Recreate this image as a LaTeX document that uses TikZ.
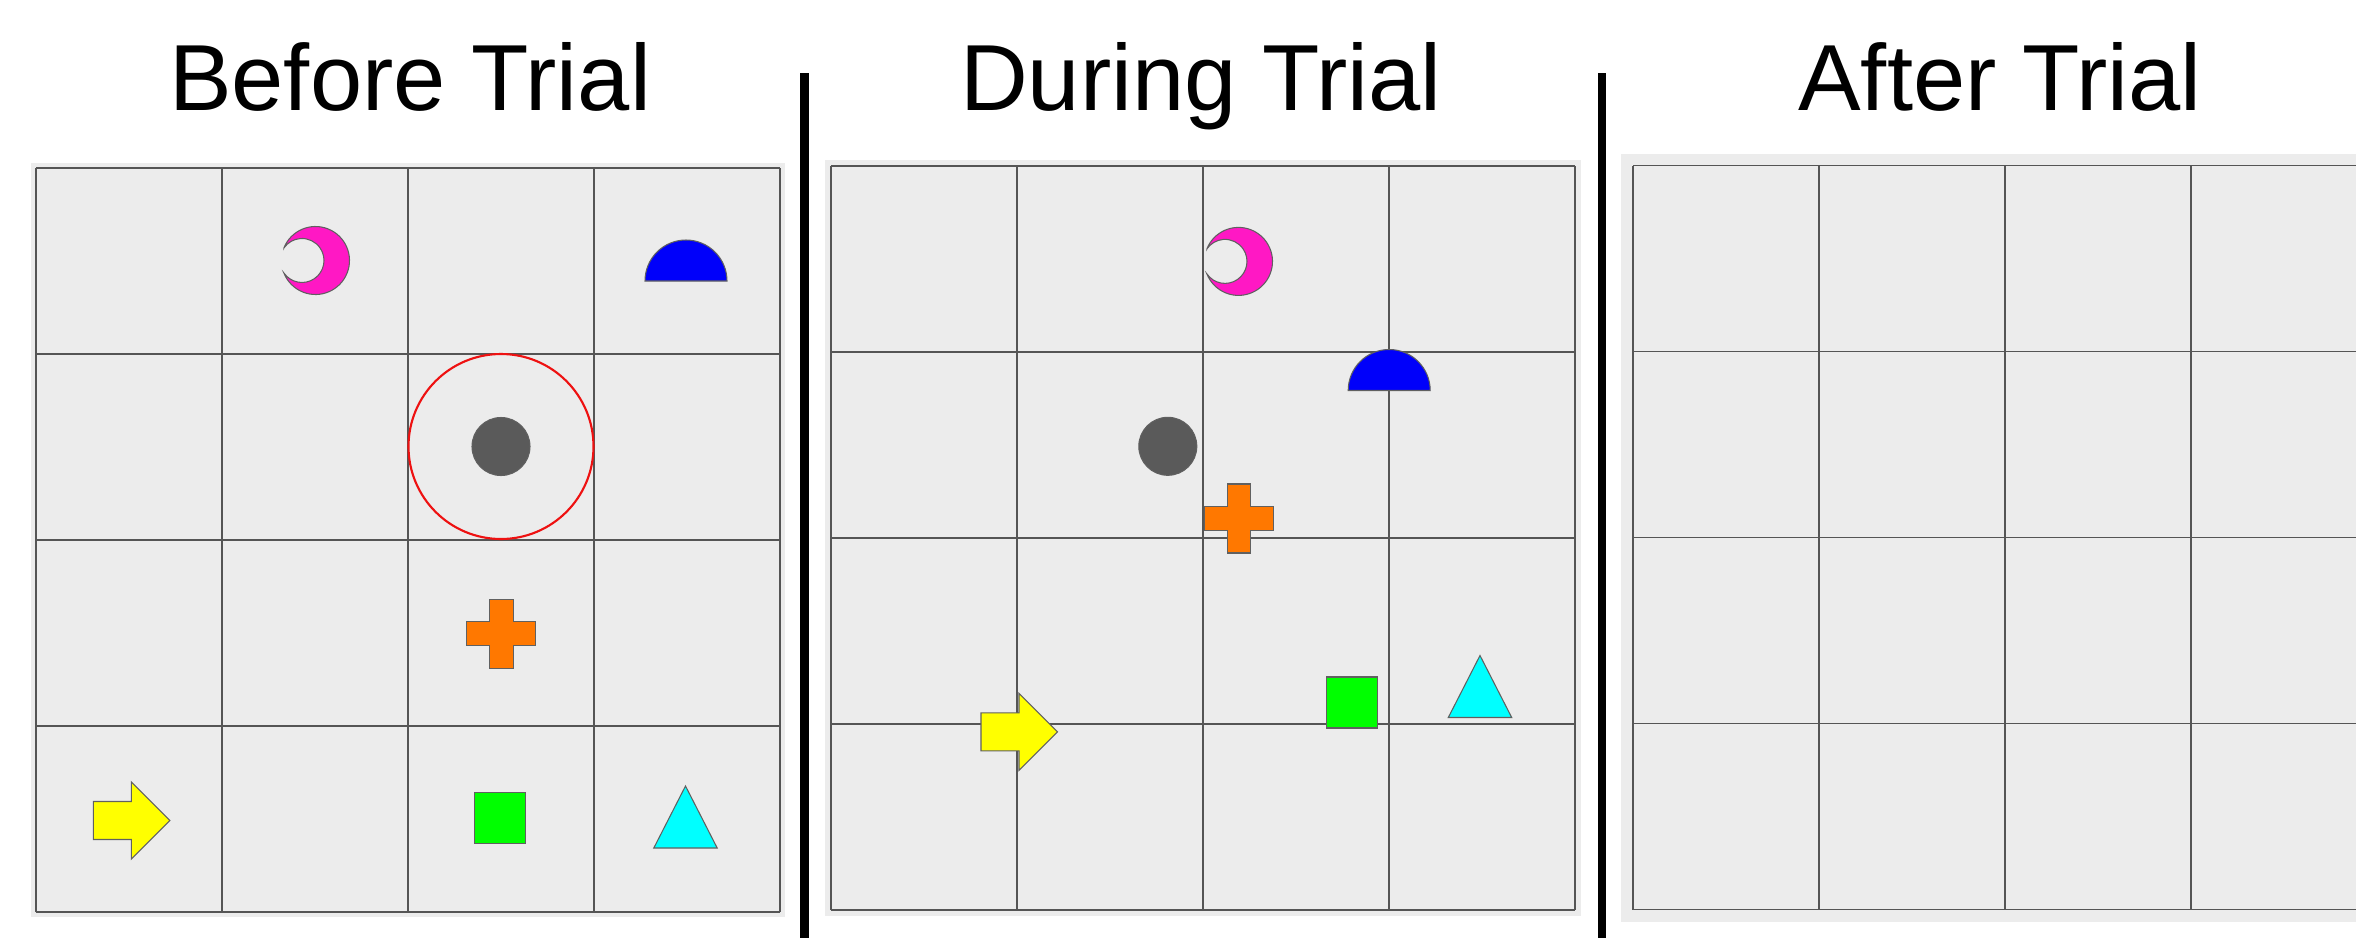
\documentclass[tikz,border=0pt]{standalone}
\usepackage{fontspec}
\setmainfont{Liberation Sans}
\usepackage{xcolor}

\definecolor{boardgray}{HTML}{ECECEC}
\definecolor{linegray}{HTML}{555555}
\definecolor{edgegray}{HTML}{606060}
\definecolor{ringred}{HTML}{EE1111}
\definecolor{moonpink}{HTML}{FF18C4}
\definecolor{domeblue}{HTML}{0000FA}
\definecolor{dotgray}{HTML}{5A5A5A}
\definecolor{plusorange}{HTML}{FF7800}
\definecolor{pointeryellow}{HTML}{FFFF00}
\definecolor{boxgreen}{HTML}{00FF00}
\definecolor{conecyan}{HTML}{00FFFF}

\begin{document}
\begin{tikzpicture}[
    x=0.01cm, y=0.01cm,
    title/.style={anchor=base, inner sep=0pt, font=\fontsize{26.7}{32}\selectfont},
    board/.style={fill=boardgray},
    gridline/.style={draw=linegray, line width=0.45pt},
    divider/.style={line width=2.4pt},
    outline/.style={draw=edgegray, line width=0.3pt},
    ring/.style={draw=ringred, line width=0.6pt},
    moon/.pic={\filldraw[outline, fill=moonpink] (158.6:34) arc[start angle=158.6, end angle=-158.6, radius=34]
        arc[start angle=-145.6, end angle=145.6, radius=22] -- cycle;},
    dome/.pic={\filldraw[outline, fill=domeblue] (-41,0) arc[start angle=180, end angle=0, radius=41] -- cycle;},
    dot/.pic={\filldraw[outline, fill=dotgray] (0,0) circle[radius=29];},
    plus/.pic={\filldraw[outline, fill=plusorange] (-11.75,34.5) -- (11.75,34.5) -- (11.75,11.75) -- (34.5,11.75)
        -- (34.5,-11.75) -- (11.75,-11.75) -- (11.75,-34.5) -- (-11.75,-34.5) -- (-11.75,-11.75)
        -- (-34.5,-11.75) -- (-34.5,11.75) -- (-11.75,11.75) -- cycle;},
    pointer/.pic={\filldraw[outline, fill=pointeryellow] (-38,19) -- (0,19) -- (0,38.5) -- (38.5,0)
        -- (0,-38.5) -- (0,-19) -- (-38,-19) -- cycle;},
    box/.pic={\filldraw[outline, fill=boxgreen] (-25.5,-25.5) rectangle (25.5,25.5);},
    cone/.pic={\filldraw[outline, fill=conecyan] (0,31) -- (31.7,-31) -- (-31.7,-31) -- cycle;}
]

\useasboundingbox (0,0) rectangle (2356,938);
\clip (0,0) rectangle (2356,938);

% titles
\node[title] (before) at (410,828) {Before Trial};
\node[title] (during) at (1201,828) {During Trial};
\node[title] (after) at (2000,828) {After Trial};

% boards: lower left corner of grid / margin of grey background
\foreach \gx/\gy/\m in {36/26/5, 831/28/6, 1633/28.5/12} {
    \fill[board] (\gx-\m,\gy-\m) rectangle (\gx+744+\m,\gy+744+\m);
    \foreach \k in {0,...,4} {
        \draw[gridline] (\gx+186*\k,\gy) -- (\gx+186*\k,\gy+744);
        \draw[gridline] (\gx,\gy+186*\k) -- (\gx+744,\gy+186*\k);
    }
}

% separators
\draw[divider] (804.5,865) -- (804.5,0);
\draw[divider] (1602,865) -- (1602,0);

% before trial
\pic at (315.5,677.5) {moon};
\pic at (686,657) {dome};
\draw[ring] (501,491.5) circle[radius=92.5];
\pic at (501,491.5) {dot};
\pic at (501.3,304.4) {plus};
\pic at (131.4,117.5) {pointer};
\pic at (500,120) {box};
\pic at (685.5,121) {cone};

% during trial
\pic at (1238.5,676.6) {moon};
\pic at (1389.2,547.5) {dome};
\pic at (1167.8,491.7) {dot};
\pic at (1239,419.5) {plus};
\pic at (1019,206.2) {pointer};
\pic at (1352,235.5) {box};
\pic at (1480,251.5) {cone};

\end{tikzpicture}
\end{document}
